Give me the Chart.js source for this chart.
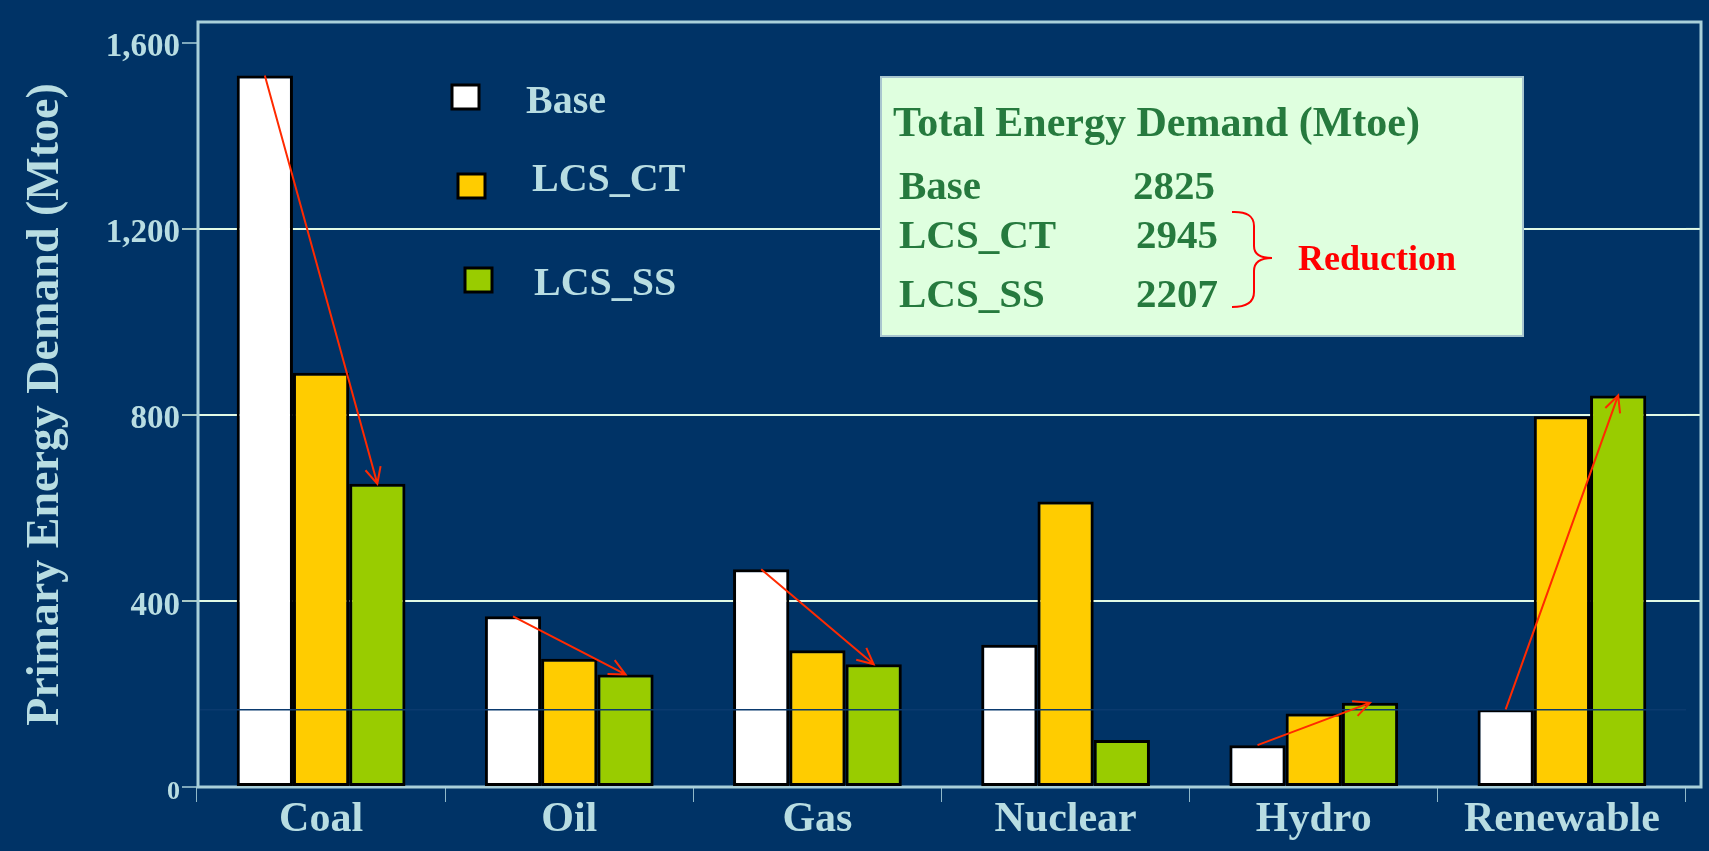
<!DOCTYPE html>
<html>
<head>
<meta charset="utf-8">
<script src="https://cdn.jsdelivr.net/npm/chart.js@4.4.1/dist/chart.umd.min.js"></script>
<style>
  html, body { margin: 0; padding: 0; background: #003366; }
  canvas { display: block; }
</style>
</head>
<body>
<canvas id="chart" width="1709" height="851"></canvas>
<script>
// data (Mtoe)
const categories = ["Coal", "Oil", "Gas", "Nuclear", "Hydro", "Renewable"];
const seriesNames = ["Base", "LCS_CT", "LCS_SS"];
const baseValues = [1530, 367, 468, 306, 90, 167];
const lcsCtValues = [891, 276, 294, 614, 158, 797];
const lcsSsValues = [652, 242, 264, 101, 181, 842];
const yTicks = [0, 400, 800, 1200, 1600];

const totalNames = ["Base", "LCS_CT", "LCS_SS"];
const totalValues = [2825, 2945, 2207];
const arrowCategories = ["Coal", "Oil", "Gas", "Hydro", "Renewable"];

const FONT = '"Liberation Serif", "Times New Roman", serif';
const LIGHT = "#b8dde2";
const GRID = "#e2fbe6";
const FRAME = "#a9d0da";
const GREEN_TEXT = "#267a3e";
const FRAME_EXTRA = 16; // frame goes a bit past the last category

// plot frame, drawn under the bars
const framePlugin = {
    id: "frame",
    beforeDatasetsDraw(chart) {
        const { ctx, chartArea: a } = chart;
        const yScale = chart.scales.y;
        ctx.save();
        // carry the grid lines on to the frame
        ctx.strokeStyle = GRID;
        ctx.lineWidth = 2;
        yTicks.filter((v) => v > 0 && v < 1600).forEach((v) => {
            const y = yScale.getPixelForValue(v);
            ctx.beginPath();
            ctx.moveTo(a.right, y);
            ctx.lineTo(a.right + FRAME_EXTRA, y);
            ctx.stroke();
        });
        ctx.strokeStyle = FRAME;
        ctx.lineWidth = 3;
        ctx.strokeRect(a.left + 1, a.top, a.right + FRAME_EXTRA - a.left - 2, a.bottom - a.top);
        ctx.restore();
    }
};

// thin navy line across the bars and the red arrows Base -> LCS_SS
const overlayPlugin = {
    id: "overlay",
    afterDatasetsDraw(chart) {
        const { ctx, chartArea: a } = chart;
        const y = chart.scales.y.getPixelForValue(166);
        ctx.save();
        ctx.strokeStyle = "#0b3a6e";
        ctx.lineWidth = 1.5;
        ctx.beginPath();
        ctx.moveTo(a.left + 3, y);
        ctx.lineTo(a.right, y);
        ctx.stroke();

        const base = chart.getDatasetMeta(0).data;
        const ss = chart.getDatasetMeta(2).data;
        ctx.strokeStyle = "#ff2a00";
        ctx.lineWidth = 2;
        arrowCategories.forEach((cat) => {
            const i = categories.indexOf(cat);
            const x1 = base[i].x, y1 = base[i].y;
            const x2 = ss[i].x, y2 = ss[i].y;
            const ang = Math.atan2(y2 - y1, x2 - x1);
            const head = 18;
            ctx.beginPath();
            ctx.moveTo(x1, y1);
            ctx.lineTo(x2, y2);
            ctx.moveTo(x2 - head * Math.cos(ang - 0.45), y2 - head * Math.sin(ang - 0.45));
            ctx.lineTo(x2, y2);
            ctx.lineTo(x2 - head * Math.cos(ang + 0.45), y2 - head * Math.sin(ang + 0.45));
            ctx.stroke();
        });
        ctx.restore();
    }
};

// legend inside the plot and the totals box
const notesPlugin = {
    id: "notes",
    afterDraw(chart) {
        const { ctx } = chart;
        ctx.save();

        const spots = [
            { sx: 452, sy: 85, tx: 526, ty: 113 },
            { sx: 458, sy: 174, tx: 532, ty: 191 },
            { sx: 465, sy: 268, tx: 534, ty: 295 }
        ];
        chart.data.datasets.forEach((ds, i) => {
            const p = spots[i];
            ctx.fillStyle = ds.backgroundColor;
            ctx.fillRect(p.sx, p.sy, 27, 24);
            ctx.strokeStyle = "#000";
            ctx.lineWidth = 3;
            ctx.strokeRect(p.sx, p.sy, 27, 24);
            ctx.fillStyle = LIGHT;
            ctx.font = "bold 40px " + FONT;
            ctx.textAlign = "left";
            ctx.textBaseline = "alphabetic";
            ctx.fillText(ds.label, p.tx, p.ty);
        });

        // totals box
        ctx.fillStyle = "#dfffdf";
        ctx.fillRect(881, 77, 642, 259);
        ctx.strokeStyle = "#a8c6cf";
        ctx.lineWidth = 2;
        ctx.strokeRect(881, 77, 642, 259);

        ctx.fillStyle = GREEN_TEXT;
        ctx.font = "bold 42px " + FONT;
        ctx.fillText("Total Energy Demand (Mtoe)", 893, 136);
        const rowY = [199, 248, 307];
        ctx.font = "bold 41px " + FONT;
        totalNames.forEach((name, i) => {
            ctx.fillText(name, 899, rowY[i]);
            ctx.fillText(String(totalValues[i]), i === 0 ? 1133 : 1136, rowY[i]);
        });

        // brace + Reduction
        ctx.strokeStyle = "#ff0000";
        ctx.lineWidth = 2;
        ctx.beginPath();
        ctx.moveTo(1232, 212);
        ctx.quadraticCurveTo(1254, 211, 1254, 226);
        ctx.lineTo(1254, 246);
        ctx.quadraticCurveTo(1254, 258, 1272, 258);
        ctx.moveTo(1272, 258);
        ctx.quadraticCurveTo(1254, 258, 1254, 271);
        ctx.lineTo(1254, 292);
        ctx.quadraticCurveTo(1254, 307, 1232, 307);
        ctx.stroke();
        ctx.fillStyle = "#ff0000";
        ctx.font = "bold 36px " + FONT;
        ctx.fillText("Reduction", 1298, 270);

        ctx.restore();
    }
};

const chart = new Chart(document.getElementById("chart").getContext("2d"), {
    type: "bar",
    data: {
        labels: categories,
        datasets: [
            { label: seriesNames[0], data: baseValues, backgroundColor: "#ffffff" },
            { label: seriesNames[1], data: lcsCtValues, backgroundColor: "#ffcc00" },
            { label: seriesNames[2], data: lcsSsValues, backgroundColor: "#99cc00" }
        ].map((d) => Object.assign(d, {
            borderColor: "#000000",
            borderWidth: 3,
            borderSkipped: false,
            categoryPercentage: 0.68,
            barPercentage: 1.0
        }))
    },
    options: {
        responsive: false,
        animation: false,
        events: [],
        layout: { padding: { top: 22, right: 7 + FRAME_EXTRA, left: 0, bottom: 0 } },
        plugins: {
            legend: { display: false },
            tooltip: { enabled: false }
        },
        scales: {
            x: {
                afterFit: (s) => { s.height = 64; },
                border: { display: false },
                grid: { drawOnChartArea: false, tickLength: 15, color: "#8fb8c8", lineWidth: 1 },
                ticks: {
                    color: LIGHT,
                    padding: -3,
                    font: { family: FONT, weight: "bold", size: 42, lineHeight: 1 }
                }
            },
            y: {
                min: 0,
                max: 1645,
                afterBuildTicks: (s) => { s.ticks = yTicks.map((v) => ({ value: v })); },
                afterFit: (s) => { s.width = 197; },
                border: { display: false },
                grid: {
                    color: (c) => (c.tick && c.tick.value > 0 && c.tick.value < 1600) ? GRID : "rgba(0,0,0,0)",
                    lineWidth: 2,
                    tickLength: 15,
                    tickColor: (c) => (c.tick && c.tick.value > 0 && c.tick.value < 1600) ? GRID : FRAME,
                    tickWidth: 1.5
                },
                ticks: {
                    color: LIGHT,
                    padding: 2,
                    labelOffset: 5,
                    font: (c) => ({ family: FONT, weight: "bold", size: c.tick && c.tick.value === 0 ? 26 : 33 }),
                    callback: (v) => v.toLocaleString("en-US")
                },
                title: {
                    display: true,
                    text: "Primary Energy Demand (Mtoe)",
                    color: LIGHT,
                    font: { family: FONT, weight: "bold", size: 46 },
                    padding: { top: 19, bottom: 0 }
                }
            }
        }
    },
    plugins: [framePlugin, overlayPlugin, notesPlugin]
});
</script>
</body>
</html>
